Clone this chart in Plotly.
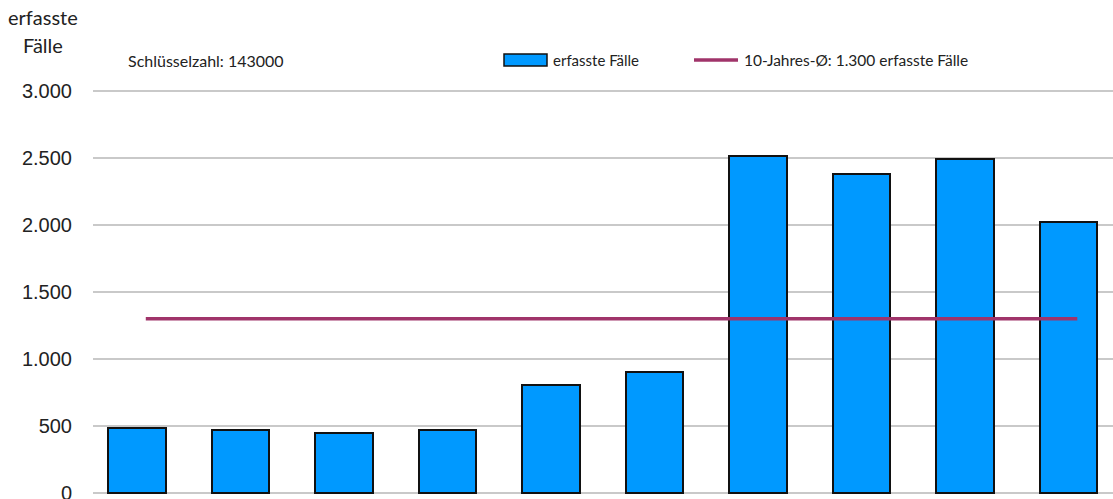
import plotly.graph_objects as go

years_idx = list(range(10))
faelle = [485, 470, 443, 470, 805, 900, 2515, 2385, 2497, 2027]
durchschnitt = [1300] * 10
y_ticks = [0, 500, 1000, 1500, 2000, 2500, 3000]
y_tick_labels = ["0", "500", "1.000", "1.500", "2.000", "2.500", "3.000"]

W, H = 1113, 499
ML, MR, MT, MB = 93, 0, 90, 5

fig = go.Figure()
fig.add_trace(go.Bar(
    x=years_idx, y=faelle, width=0.56,
    marker=dict(color="#0099FF", line=dict(color="#111111", width=2)),
    name="erfasste Fälle", showlegend=False,
))
fig.add_trace(go.Scatter(
    x=years_idx, y=durchschnitt, mode="lines", xaxis="x2",
    line=dict(color="#A0346A", width=3.5),
    name="10-Jahres-Ø: 1.300 erfasste Fälle", showlegend=False,
))

xr = [-0.425, 9.43]
shift = 0.085
fig.update_layout(
    width=W, height=H,
    margin=dict(l=ML, r=MR, t=MT, b=MB, autoexpand=False),
    plot_bgcolor="white", paper_bgcolor="white",
    bargap=0,
    xaxis=dict(range=xr, showticklabels=False, showgrid=False, zeroline=False,
               showline=False, ticks="", automargin=False),
    xaxis2=dict(range=[xr[0] - shift, xr[1] - shift], overlaying="x",
                visible=False),
    yaxis=dict(range=[-10, 3010], tickvals=y_ticks, ticktext=y_tick_labels,
               showgrid=True, gridcolor="#C9C9C9", gridwidth=1.5,
               zeroline=False, showline=False, ticks="", automargin=False,
               ticklabelstandoff=20, ticklabeloverflow="allow",
               tickfont=dict(family="Liberation Sans, Arial", size=20, color="#222222")),
    font=dict(family="Lato, Noto Sans", color="#222222"),
)

px = lambda v: (v - ML) / (W - ML - MR)
py = lambda v: (H - MB - v) / (H - MT - MB)

# y axis title (two lines)
for txt, yc in (("erfasste", 17), ("Fälle", 45)):
    fig.add_annotation(text=txt, xref="paper", yref="paper",
                       x=px(43), y=py(yc), xanchor="center", yanchor="middle",
                       showarrow=False,
                       font=dict(family="Lato", size=20, color="#222222"))

# key number
fig.add_annotation(text="Schlüsselzahl: 143000", xref="paper", yref="paper",
                   x=px(126), y=py(61), xanchor="left", yanchor="middle",
                   showarrow=False, font=dict(family="Lato", size=16, color="#222222"))

# legend (manual)
fig.add_shape(type="rect", xref="paper", yref="paper",
              x0=px(504), x1=px(547), y0=py(66), y1=py(54),
              fillcolor="#0099FF", line=dict(color="#111111", width=1.5))
fig.add_annotation(text="erfasste Fälle", xref="paper", yref="paper",
                   x=px(551), y=py(60), xanchor="left", yanchor="middle",
                   showarrow=False, font=dict(family="Lato", size=15, color="#222222"))
fig.add_shape(type="line", xref="paper", yref="paper",
              x0=px(694), x1=px(738), y0=py(60), y1=py(60),
              line=dict(color="#A0346A", width=3.5))
fig.add_annotation(text="10-Jahres-Ø: 1.300 erfasste Fälle", xref="paper", yref="paper",
                   x=px(742), y=py(60), xanchor="left", yanchor="middle",
                   showarrow=False, font=dict(family="Lato", size=15.5, color="#222222"))

fig.write_html("out.html", config={"displayModeBar": False},
               post_script="document.body.style.margin='0';")
